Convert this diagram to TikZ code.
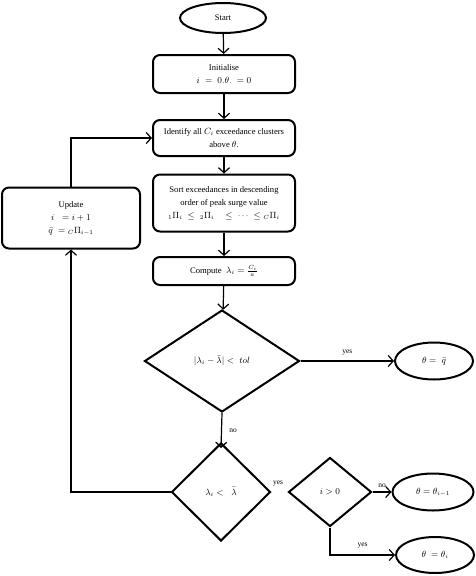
\documentclass[tikz,border=0pt]{standalone}
\usepackage{fontspec}
\setmainfont{Liberation Serif}
\usetikzlibrary{shapes.geometric,arrows.meta}
\begin{document}
\begin{tikzpicture}[x=1pt,y=-1pt,
  txt/.style={font=\fontsize{8.6}{13}\selectfont},
  box/.style={txt,draw,line width=2pt,rounded corners=7pt,align=center,inner sep=0pt},
  oval/.style={txt,draw,ellipse,line width=2pt,inner sep=0pt},
  dia/.style={txt,draw,diamond,line width=2pt,inner sep=0pt},
  conn/.style={line width=1.2pt,-{Straight Barb[length=5pt,width=11pt,line width=1.2pt]}},
  lab/.style={font=\fontsize{7.5}{8}\selectfont}]
\useasboundingbox (0,0) rectangle (476,576);
\node[oval,minimum width=86pt,minimum height=30pt] (start) at (223,18) {Start};
\node[box,minimum width=142pt,minimum height=38pt] (init) at (224,74) {Initialise\\$i\;=\;0.\theta.\;=0$};
\node[box,minimum width=142pt,minimum height=36pt] (ident) at (224,138) {Identify all $C_i$ exceedance clusters\\above $\theta$.};
\node[box,minimum width=142pt,minimum height=57pt] (sort) at (224,203) {Sort exceedances in descending\\order of peak surge value\\${}_1\Pi_i\;\le\;{}_2\Pi_i\quad\le\;\cdots\;\le{}_C\Pi_i$};
\node[box,minimum width=142pt,minimum height=28pt] (comp) at (224,271) {Compute\; $\lambda_i=\frac{C_i}{a}$};
\node[box,minimum width=138pt,minimum height=61pt] (upd) at (71,218) {Update\\$i\;\;=i+1$\\$\bar{q}\;={}_C\Pi_{i-1}$};
\node[dia,minimum width=155pt,minimum height=102pt] (d1) at (222,361) {$|\lambda_i-\bar{\lambda}|<\;tol$};
\node[dia,minimum width=99pt,minimum height=98pt] (d2) at (221,492) {$\lambda_i<\;\;\bar{\lambda}$};
\node[dia,minimum width=83pt,minimum height=69pt] (d3) at (330,492) {$i>0$};
\node[oval,minimum width=78pt,minimum height=37pt] (e1) at (434,361) {$\theta=\;\bar{q}$};
\node[oval,minimum width=81pt,minimum height=37pt] (e2) at (433,492) {$\theta=\theta_{i-1}$};
\node[oval,minimum width=78pt,minimum height=36pt] (e3) at (435,555) {$\theta\;=\theta_i$};
\draw[conn] (start) -- (init);
\draw[conn] (init) -- (ident);
\draw[conn] (ident) -- (sort);
\draw[conn] (sort) -- (comp);
\draw[conn] (comp) -- (d1);
\draw[conn] (d1.east) -- node[lab,above=2pt]{yes} (e1.west);
\draw[conn] (d1.south) -- node[lab,right=4pt]{no} ([yshift=-6pt]d2.north);
\node[lab] (yes2) at (278,484) {yes};
\draw[conn] (d3.east) -- node[lab,above=1pt]{no} (e2.west);
\coordinate (c3) at (d3.south |- e3.west);
\draw[conn] (d3.south) -- (c3) -- node[lab,above=3pt]{yes} (e3.west);
\coordinate (c2) at (upd.south |- d2.west);
\draw[conn] (d2.west) -- (c2) -- (upd.south);
\coordinate (c1) at (upd.north |- ident.west);
\draw[conn] (upd.north) -- (c1) -- (ident.west);
\end{tikzpicture}
\end{document}
